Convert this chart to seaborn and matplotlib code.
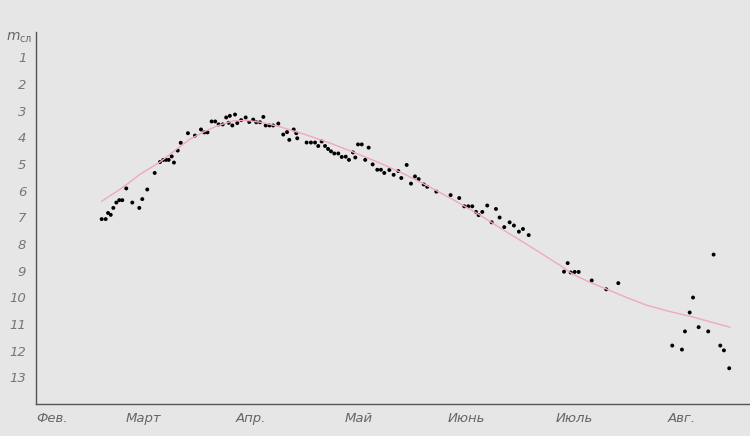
import numpy as np
import pandas as pd
import matplotlib
matplotlib.use("Agg")
import matplotlib.pyplot as plt
import seaborn as sns

# observations: time in months since 1 Feb, magnitude
obs_t = [0.61, 0.647, 0.669, 0.694, 0.718, 0.746, 0.773, 0.801, 0.838, 0.894,
         0.959, 0.987, 1.033, 1.102, 1.151, 1.182, 1.207, 1.232, 1.26, 1.281,
         1.316, 1.344, 1.411, 1.476, 1.532, 1.563, 1.592, 1.631, 1.664, 1.696,
         1.734, 1.766, 1.8, 1.789, 1.823, 1.848, 1.869, 1.905, 1.947, 1.98,
         2.017, 2.045, 2.08, 2.111, 2.133, 2.168, 2.202, 2.25, 2.296, 2.331,
         2.352, 2.393, 2.417, 2.426, 2.513, 2.553, 2.591, 2.621, 2.653, 2.684,
         2.712, 2.739, 2.77, 2.807, 2.839, 2.876, 2.906, 2.943, 2.965, 2.99,
         3.025, 3.057, 3.089, 3.126, 3.169, 3.203, 3.234, 3.281, 3.321, 3.364,
         3.392, 3.442, 3.482, 3.519, 3.553, 3.6, 3.633, 3.717, 3.85, 3.93,
         3.977, 4.014, 4.051, 4.085, 4.11, 4.144, 4.19, 4.231, 4.271, 4.305,
         4.348, 4.398, 4.438, 4.484, 4.522, 4.575, 4.903, 4.937, 4.965, 5.002,
         5.039, 5.16, 5.295, 5.407, 5.908, 5.998, 6.026, 6.07, 6.101, 6.153,
         6.242, 6.292, 6.354, 6.388, 6.437]
obs_m = [7.07, 7.07, 6.84, 6.91, 6.65, 6.45, 6.36, 6.36, 5.92, 6.45,
         6.65, 6.32, 5.96, 5.34, 4.93, 4.85, 4.85, 4.85, 4.72, 4.95,
         4.5, 4.21, 3.85, 3.94, 3.71, 3.82, 3.82, 3.41, 3.41, 3.52,
         3.52, 3.26, 3.2, 3.46, 3.56, 3.15, 3.47, 3.36, 3.26, 3.43,
         3.34, 3.44, 3.44, 3.24, 3.56, 3.56, 3.56, 3.49, 3.9, 3.81,
         4.1, 3.71, 3.85, 4.04, 4.2, 4.2, 4.2, 4.33, 4.16, 4.33,
         4.44, 4.53, 4.61, 4.61, 4.74, 4.73, 4.85, 4.57, 4.76, 4.27,
         4.27, 4.85, 4.39, 5.02, 5.22, 5.22, 5.34, 5.23, 5.41, 5.27,
         5.53, 5.04, 5.74, 5.47, 5.57, 5.77, 5.86, 6.04, 6.17, 6.28,
         6.59, 6.59, 6.59, 6.8, 6.92, 6.8, 6.56, 7.19, 6.69, 7.01,
         7.37, 7.19, 7.31, 7.54, 7.44, 7.67, 9.04, 8.72, 9.07, 9.05,
         9.05, 9.37, 9.7, 9.47, 11.81, 11.96, 11.28, 10.57, 10.01, 11.12,
         11.28, 8.4, 11.81, 11.99, 12.66]

# smoothed light curve (hand drawn)
curve_t = [0.61, 0.8, 0.966, 1.151, 1.3, 1.43, 1.56, 1.678, 1.829, 1.956,
           2.1, 2.266, 2.5, 2.73, 2.96, 3.194, 3.43, 3.658, 3.89, 4.123,
           4.35, 4.587, 4.865, 4.986, 5.15, 5.302, 5.49, 5.673, 5.87, 6.072,
           6.26, 6.444]
curve_m = [6.4, 5.9, 5.39, 4.93, 4.47, 4.07, 3.8, 3.58, 3.39, 3.37,
           3.45, 3.61, 3.9, 4.22, 4.58, 4.97, 5.4, 5.87, 6.38, 6.92,
           7.5, 8.09, 8.8, 9.14, 9.45, 9.7, 10.02, 10.3, 10.52, 10.71,
           10.92, 11.12]

months = ["Фев.", "Март", "Апр.", "Май", "Июнь", "Июль", "Авг."]
mag_ticks = list(range(1, 14))

obs = pd.DataFrame({"t": obs_t, "m": obs_m})
curve = pd.DataFrame({"t": curve_t, "m": curve_m})

bg = "#e6e6e6"
sns.set_style("white", {"axes.facecolor": bg, "figure.facecolor": bg})
plt.rcParams["font.family"] = ["DejaVu Sans"]

fig = plt.figure(figsize=(7.5, 4.36), dpi=100)
ax = fig.add_axes([0.048, 0.0734, 0.952, 0.853])

sns.lineplot(data=curve, x="t", y="m", sort=False, color="#f0a8c0", lw=1.0, ax=ax)
sns.scatterplot(data=obs, x="t", y="m", color="black", s=8, marker="o",
                edgecolor="none", ax=ax)

ax.set_xlim(0, 6.63)
ax.set_ylim(14.0, 0.06)
ax.set_xlabel("")
ax.set_ylabel("")

ax.set_xticks(range(len(months)))
ax.set_xticklabels(months, fontstyle="italic", fontsize=9.5, color="#666666")
ax.set_yticks(mag_ticks)
ax.set_yticklabels([str(v) for v in mag_ticks], fontstyle="italic", fontsize=9.5,
                   color="#777777")
ax.tick_params(axis="x", direction="inout", length=5, width=1.2, color="#444444", pad=3)
ax.tick_params(axis="y", direction="out", length=3, width=0.8, color="#666666", pad=4)
ax.get_xticklabels()[0].set_horizontalalignment("left")

for s in ("top", "right"):
    ax.spines[s].set_visible(False)
for s in ("left", "bottom"):
    ax.spines[s].set_color("#555555")
    ax.spines[s].set_linewidth(1.0)

fig.text(0.008, 0.908, "$m_{\\mathrm{сл}}$", fontsize=10, color="#666666",
         fontstyle="italic")

fig.savefig("out.png", dpi=100, facecolor=bg)
